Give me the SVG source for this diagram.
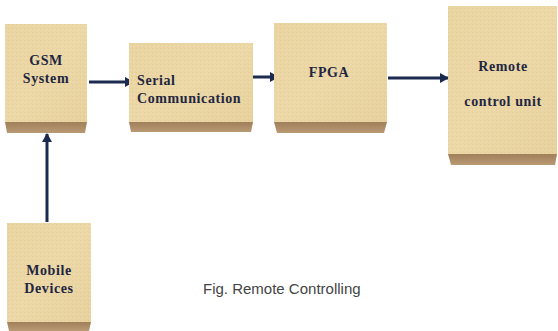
<svg xmlns="http://www.w3.org/2000/svg" width="558" height="331" viewBox="0 0 558 331">
<defs>
<linearGradient id="face" x1="0" y1="0" x2="1" y2="1">
<stop offset="0" stop-color="#e9d39f"/>
<stop offset="0.5" stop-color="#efdcad"/>
<stop offset="1" stop-color="#e4cc95"/>
</linearGradient>
<pattern id="tex" width="4" height="4" patternUnits="userSpaceOnUse">
<rect width="4" height="4" fill="url(#face)"/>
<path d="M0 0.5H4M0.5 0V4" stroke="#d6bb82" stroke-width="0.5" opacity="0.5"/>
</pattern>
<linearGradient id="bev" x1="0" y1="0" x2="0" y2="1">
<stop offset="0" stop-color="#9f805b"/>
<stop offset="1" stop-color="#b99a75"/>
</linearGradient>
<marker id="ah" markerWidth="10" markerHeight="10" refX="8" refY="5" orient="auto" markerUnits="userSpaceOnUse">
<path d="M0 0L9 5L0 10Z" fill="#1c2a50"/>
</marker>
</defs>
<style>
.face{fill:url(#face)}
.tex{fill:url(#tex);opacity:0.6}
.bev{fill:url(#bev)}
.lbl{font-family:"Liberation Serif","Times New Roman",serif;font-weight:bold;font-size:14px;fill:#1f2640;letter-spacing:0.6px}
.mid{text-anchor:middle}
.conn{stroke:#1c2a50;stroke-width:3;fill:none;marker-end:url(#ah)}
.cap{font-family:"Liberation Sans",Arial,sans-serif;font-size:15px;fill:#444}
</style>
<g id="connectors">
<line class="conn" x1="89" y1="82" x2="133" y2="82"/>
<line class="conn" x1="253" y1="77" x2="278" y2="77"/>
<line class="conn" x1="388" y1="78" x2="448" y2="78"/>
<line class="conn" x1="47" y1="222" x2="47" y2="134"/>
</g>
<g id="gsm">
<rect class="face" x="5" y="24" width="82" height="98"/>
<rect class="tex" x="5" y="24" width="82" height="98"/>
<path class="bev" d="M5 122H87L85 133H7Z"/>
<text class="lbl mid" x="46" y="65">GSM</text>
<text class="lbl mid" x="46" y="83">System</text>
</g>
<g id="serial">
<rect class="face" x="129" y="43" width="124" height="79"/>
<rect class="tex" x="129" y="43" width="124" height="79"/>
<path class="bev" d="M129 122H253L251 132H131Z"/>
<text class="lbl" x="137" y="85">Serial</text>
<text class="lbl" x="137" y="103">Communication</text>
</g>
<g id="fpga">
<rect class="face" x="274" y="23" width="113" height="99"/>
<rect class="tex" x="274" y="23" width="113" height="99"/>
<path class="bev" d="M274 122H387L384 133H277Z"/>
<text class="lbl mid" x="329" y="77">FPGA</text>
</g>
<g id="remote">
<rect class="face" x="448" y="6" width="109" height="148"/>
<rect class="tex" x="448" y="6" width="109" height="148"/>
<path class="bev" d="M448 154H557L555 165H451Z"/>
<text class="lbl mid" x="503" y="71">Remote</text>
<text class="lbl mid" x="503" y="106">control unit</text>
</g>
<g id="mobile">
<rect class="face" x="7" y="223" width="84" height="99"/>
<rect class="tex" x="7" y="223" width="84" height="99"/>
<path class="bev" d="M7 322H91L89 331H9Z"/>
<text class="lbl mid" x="49" y="275">Mobile</text>
<text class="lbl mid" x="49" y="293">Devices</text>
</g>
<text class="cap" x="203" y="294">Fig. Remote Controlling</text>
</svg>
